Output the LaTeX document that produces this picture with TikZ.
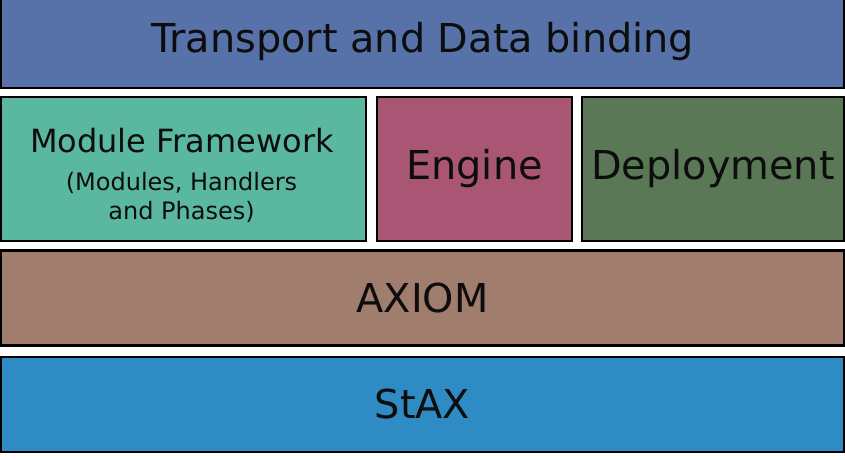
\documentclass[tikz,border=0pt]{standalone}
\usepackage{fontspec}
\setmainfont{DejaVu Sans}
\definecolor{ctop}{HTML}{5772A8}
\definecolor{cmod}{HTML}{5BB8A0}
\definecolor{ceng}{HTML}{A85673}
\definecolor{cdep}{HTML}{5A7756}
\definecolor{cax}{HTML}{A07D6C}
\definecolor{cstax}{HTML}{2E8BC3}
\begin{document}
\begin{tikzpicture}[x=1pt,y=-1pt,
  layer/.style={draw=black,line width=2.5pt,rectangle,inner sep=0pt,anchor=center,
    font=\fontsize{39.8}{44}\selectfont,text=black!95},
  ]
\useasboundingbox[fill=white] (0,0) rectangle (845,459);
\node[layer,fill=ctop,minimum width=843pt,minimum height=92pt] (top) at (422.5,42) {Transport and Data binding};
\node[layer,fill=cmod,minimum width=365pt,minimum height=144pt] (mod) at (183.5,169) {};
\node[font=\fontsize{32}{36}\selectfont,text=black!95] (modt) at (182,141) {Module Framework};
\node[font=\fontsize{24}{29}\selectfont,text=black!95,align=center] (mods) at (181.5,197) {(Modules, Handlers\\and Phases)};
\node[layer,fill=ceng,minimum width=195pt,minimum height=144pt] (eng) at (474.5,169) {Engine};
\node[layer,fill=cdep,minimum width=262pt,minimum height=144pt] (dep) at (713,169) {Deployment};
\node[layer,fill=cax,minimum width=843pt,minimum height=95pt] (ax) at (422.5,298) {AXIOM};
\node[layer,fill=cstax,minimum width=843pt,minimum height=95pt] (stax) at (422.5,404.5) {StAX};
\end{tikzpicture}
\end{document}
